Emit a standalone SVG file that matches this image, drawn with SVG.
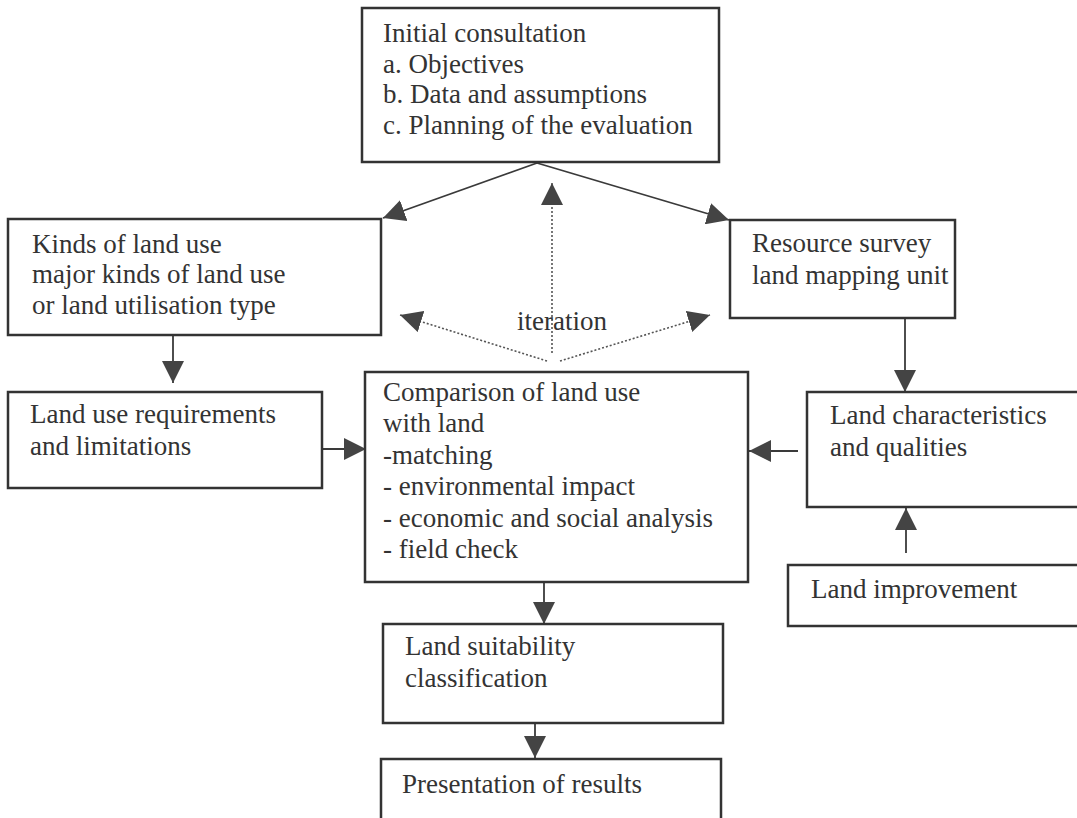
<svg xmlns="http://www.w3.org/2000/svg" width="1077" height="818" viewBox="0 0 1077 818">
<style>
.box{fill:#fff;stroke:#333;stroke-width:2.5}
.t{font-family:"Liberation Serif","Times New Roman",serif;font-size:27px;fill:#333}
.c{stroke:#3a3a3a;stroke-width:1.8;fill:none}
.d{stroke:#555;stroke-width:1.6;stroke-dasharray:2 2;fill:none}
</style>
<defs>
<marker id="ah" markerUnits="userSpaceOnUse" markerWidth="22" markerHeight="22" viewBox="0 0 20 20" refX="20" refY="10" orient="auto">
<path d="M0,0 L20,10 L0,20 Z" fill="#444"/>
</marker>
</defs>
<rect width="1077" height="818" fill="#fff"/>
<g id="connectors">
<line class="c" x1="537" y1="163" x2="383" y2="218" marker-end="url(#ah)"/>
<line class="c" x1="537" y1="163" x2="729" y2="220" marker-end="url(#ah)"/>
<line class="c" x1="173" y1="335" x2="173" y2="383" marker-end="url(#ah)"/>
<line class="c" x1="322" y1="449" x2="366" y2="449" marker-end="url(#ah)"/>
<line class="c" x1="905" y1="318" x2="905" y2="392" marker-end="url(#ah)"/>
<line class="c" x1="798" y1="451" x2="749" y2="451" marker-end="url(#ah)"/>
<line class="c" x1="906" y1="553" x2="906" y2="508" marker-end="url(#ah)"/>
<line class="c" x1="544" y1="582" x2="544" y2="624" marker-end="url(#ah)"/>
<line class="c" x1="535" y1="723" x2="535" y2="758" marker-end="url(#ah)"/>
<line class="d" x1="552" y1="353" x2="552" y2="183" marker-end="url(#ah)"/>
<line class="d" x1="547" y1="361" x2="400" y2="315" marker-end="url(#ah)"/>
<line class="d" x1="560" y1="361" x2="710" y2="315" marker-end="url(#ah)"/>
<text class="t" x="517" y="330">iteration</text>
</g>
<g id="initial">
<rect class="box" x="362" y="8" width="357" height="154"/>
<text class="t" x="383" y="42">Initial consultation</text>
<text class="t" x="383" y="73">a. Objectives</text>
<text class="t" x="383" y="103">b. Data and assumptions</text>
<text class="t" x="383" y="134">c. Planning of the evaluation</text>
</g>
<g id="kinds">
<rect class="box" x="8" y="219" width="373" height="116"/>
<text class="t" x="32" y="253">Kinds of land use</text>
<text class="t" x="32" y="283">major kinds of land use</text>
<text class="t" x="32" y="314">or land utilisation type</text>
</g>
<g id="resource">
<rect class="box" x="730" y="220" width="225" height="98"/>
<text class="t" x="752" y="252">Resource survey</text>
<text class="t" x="752" y="284">land mapping unit</text>
</g>
<g id="requirements">
<rect class="box" x="8" y="392" width="314" height="96"/>
<text class="t" x="30" y="423">Land use requirements</text>
<text class="t" x="30" y="455">and limitations</text>
</g>
<g id="comparison">
<rect class="box" x="365" y="372" width="383" height="210"/>
<text class="t" x="383" y="401">Comparison of land use</text>
<text class="t" x="383" y="432">with land</text>
<text class="t" x="383" y="464">-matching</text>
<text class="t" x="383" y="495">- environmental impact</text>
<text class="t" x="383" y="527">- economic and social analysis</text>
<text class="t" x="383" y="558">- field check</text>
</g>
<g id="characteristics">
<rect class="box" x="807" y="392" width="280" height="115"/>
<text class="t" x="830" y="424">Land characteristics</text>
<text class="t" x="830" y="456">and qualities</text>
</g>
<g id="improvement">
<rect class="box" x="788" y="565" width="300" height="61"/>
<text class="t" x="811" y="598">Land improvement</text>
</g>
<g id="suitability">
<rect class="box" x="383" y="624" width="340" height="99"/>
<text class="t" x="405" y="655">Land suitability</text>
<text class="t" x="405" y="687">classification</text>
</g>
<g id="presentation">
<rect class="box" x="381" y="759" width="340" height="70"/>
<text class="t" x="402" y="793">Presentation of results</text>
</g>
</svg>
